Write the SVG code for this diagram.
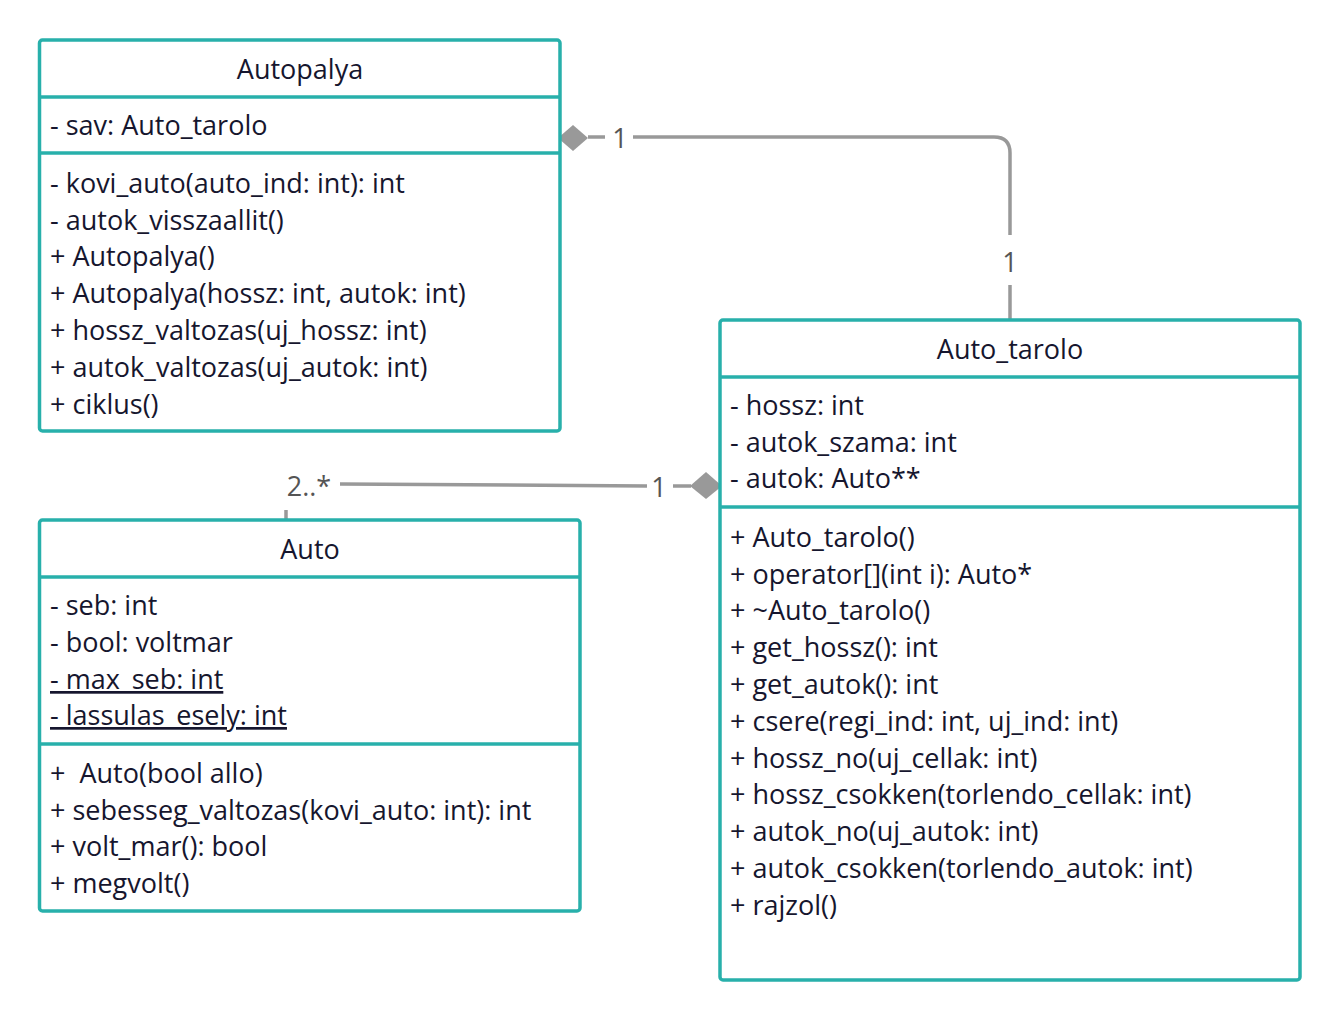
<svg xmlns="http://www.w3.org/2000/svg" width="1340" height="1020" viewBox="0 0 1340 1020">
<style>
.box{fill:#fff;stroke:#28b0ab;stroke-width:3.5}
.sep{stroke:#28b0ab;stroke-width:3.5}
.t{font-family:"Open Sans","Noto Sans",sans-serif;font-size:27px;fill:#16162e;white-space:pre}
.c{text-anchor:middle}
.u{text-decoration:underline}
.conn{fill:none;stroke:#999;stroke-width:3.5}
.lbl{font-family:"Open Sans","Noto Sans",sans-serif;font-size:27px;fill:#555;text-anchor:middle}
.dia{fill:#999}
</style>
<rect width="1340" height="1020" fill="#fff"/>
<g id="connectors">
<path class="conn" d="M588 137 H605 M633 137 H994 Q1010 137 1010 153 V235 M1010 285 V320"/>
<polygon class="dia" points="558,138 573,125 588,138 573,151"/>
<text class="lbl" x="620" y="148">1</text>
<text class="lbl" x="1010" y="272">1</text>
<path class="conn" d="M691 486 H673 M647 486 L340 484"/>
<polygon class="dia" points="722,486 706,472 690,486 706,499"/>
<text class="lbl" x="659" y="497">1</text>
<text class="lbl" x="309" y="496">2..*</text>
<path class="conn" d="M286 510 V520"/>
</g>
<g id="Autopalya">
<rect class="box" x="39.5" y="40" width="520.5" height="391" rx="3"/>
<line class="sep" x1="39.5" y1="97" x2="560" y2="97"/>
<line class="sep" x1="39.5" y1="153" x2="560" y2="153"/>
<text class="t c" x="300" y="79">Autopalya</text>
<text class="t" x="50" y="135">- sav: Auto_tarolo</text>
<text class="t" x="50" y="193">- kovi_auto(auto_ind: int): int</text>
<text class="t" x="50" y="230">- autok_visszaallit()</text>
<text class="t" x="50" y="266">+ Autopalya()</text>
<text class="t" x="50" y="303">+ Autopalya(hossz: int, autok: int)</text>
<text class="t" x="50" y="340">+ hossz_valtozas(uj_hossz: int)</text>
<text class="t" x="50" y="377">+ autok_valtozas(uj_autok: int)</text>
<text class="t" x="50" y="414">+ ciklus()</text>
</g>
<g id="Auto_tarolo">
<rect class="box" x="720" y="320" width="580" height="660" rx="3"/>
<line class="sep" x1="720" y1="377" x2="1300" y2="377"/>
<line class="sep" x1="720" y1="507" x2="1300" y2="507"/>
<text class="t c" x="1010" y="359">Auto_tarolo</text>
<text class="t" x="730" y="415">- hossz: int</text>
<text class="t" x="730" y="452">- autok_szama: int</text>
<text class="t" x="730" y="488">- autok: Auto**</text>
<text class="t" x="730" y="547">+ Auto_tarolo()</text>
<text class="t" x="730" y="584">+ operator[](int i): Auto*</text>
<text class="t" x="730" y="620">+ ~Auto_tarolo()</text>
<text class="t" x="730" y="657">+ get_hossz(): int</text>
<text class="t" x="730" y="694">+ get_autok(): int</text>
<text class="t" x="730" y="731">+ csere(regi_ind: int, uj_ind: int)</text>
<text class="t" x="730" y="768">+ hossz_no(uj_cellak: int)</text>
<text class="t" x="730" y="804">+ hossz_csokken(torlendo_cellak: int)</text>
<text class="t" x="730" y="841">+ autok_no(uj_autok: int)</text>
<text class="t" x="730" y="878">+ autok_csokken(torlendo_autok: int)</text>
<text class="t" x="730" y="915">+ rajzol()</text>
</g>
<g id="Auto">
<rect class="box" x="39.5" y="520" width="540.5" height="391" rx="3"/>
<line class="sep" x1="39.5" y1="577" x2="580" y2="577"/>
<line class="sep" x1="39.5" y1="744" x2="580" y2="744"/>
<text class="t c" x="310" y="559">Auto</text>
<text class="t" x="50" y="615">- seb: int</text>
<text class="t" x="50" y="652">- bool: voltmar</text>
<text class="t u" x="50" y="689">- max_seb: int</text>
<text class="t u" x="50" y="725">- lassulas_esely: int</text>
<text class="t" x="50" y="783">+  Auto(bool allo)</text>
<text class="t" x="50" y="820">+ sebesseg_valtozas(kovi_auto: int): int</text>
<text class="t" x="50" y="856">+ volt_mar(): bool</text>
<text class="t" x="50" y="893">+ megvolt()</text>
</g>
</svg>
